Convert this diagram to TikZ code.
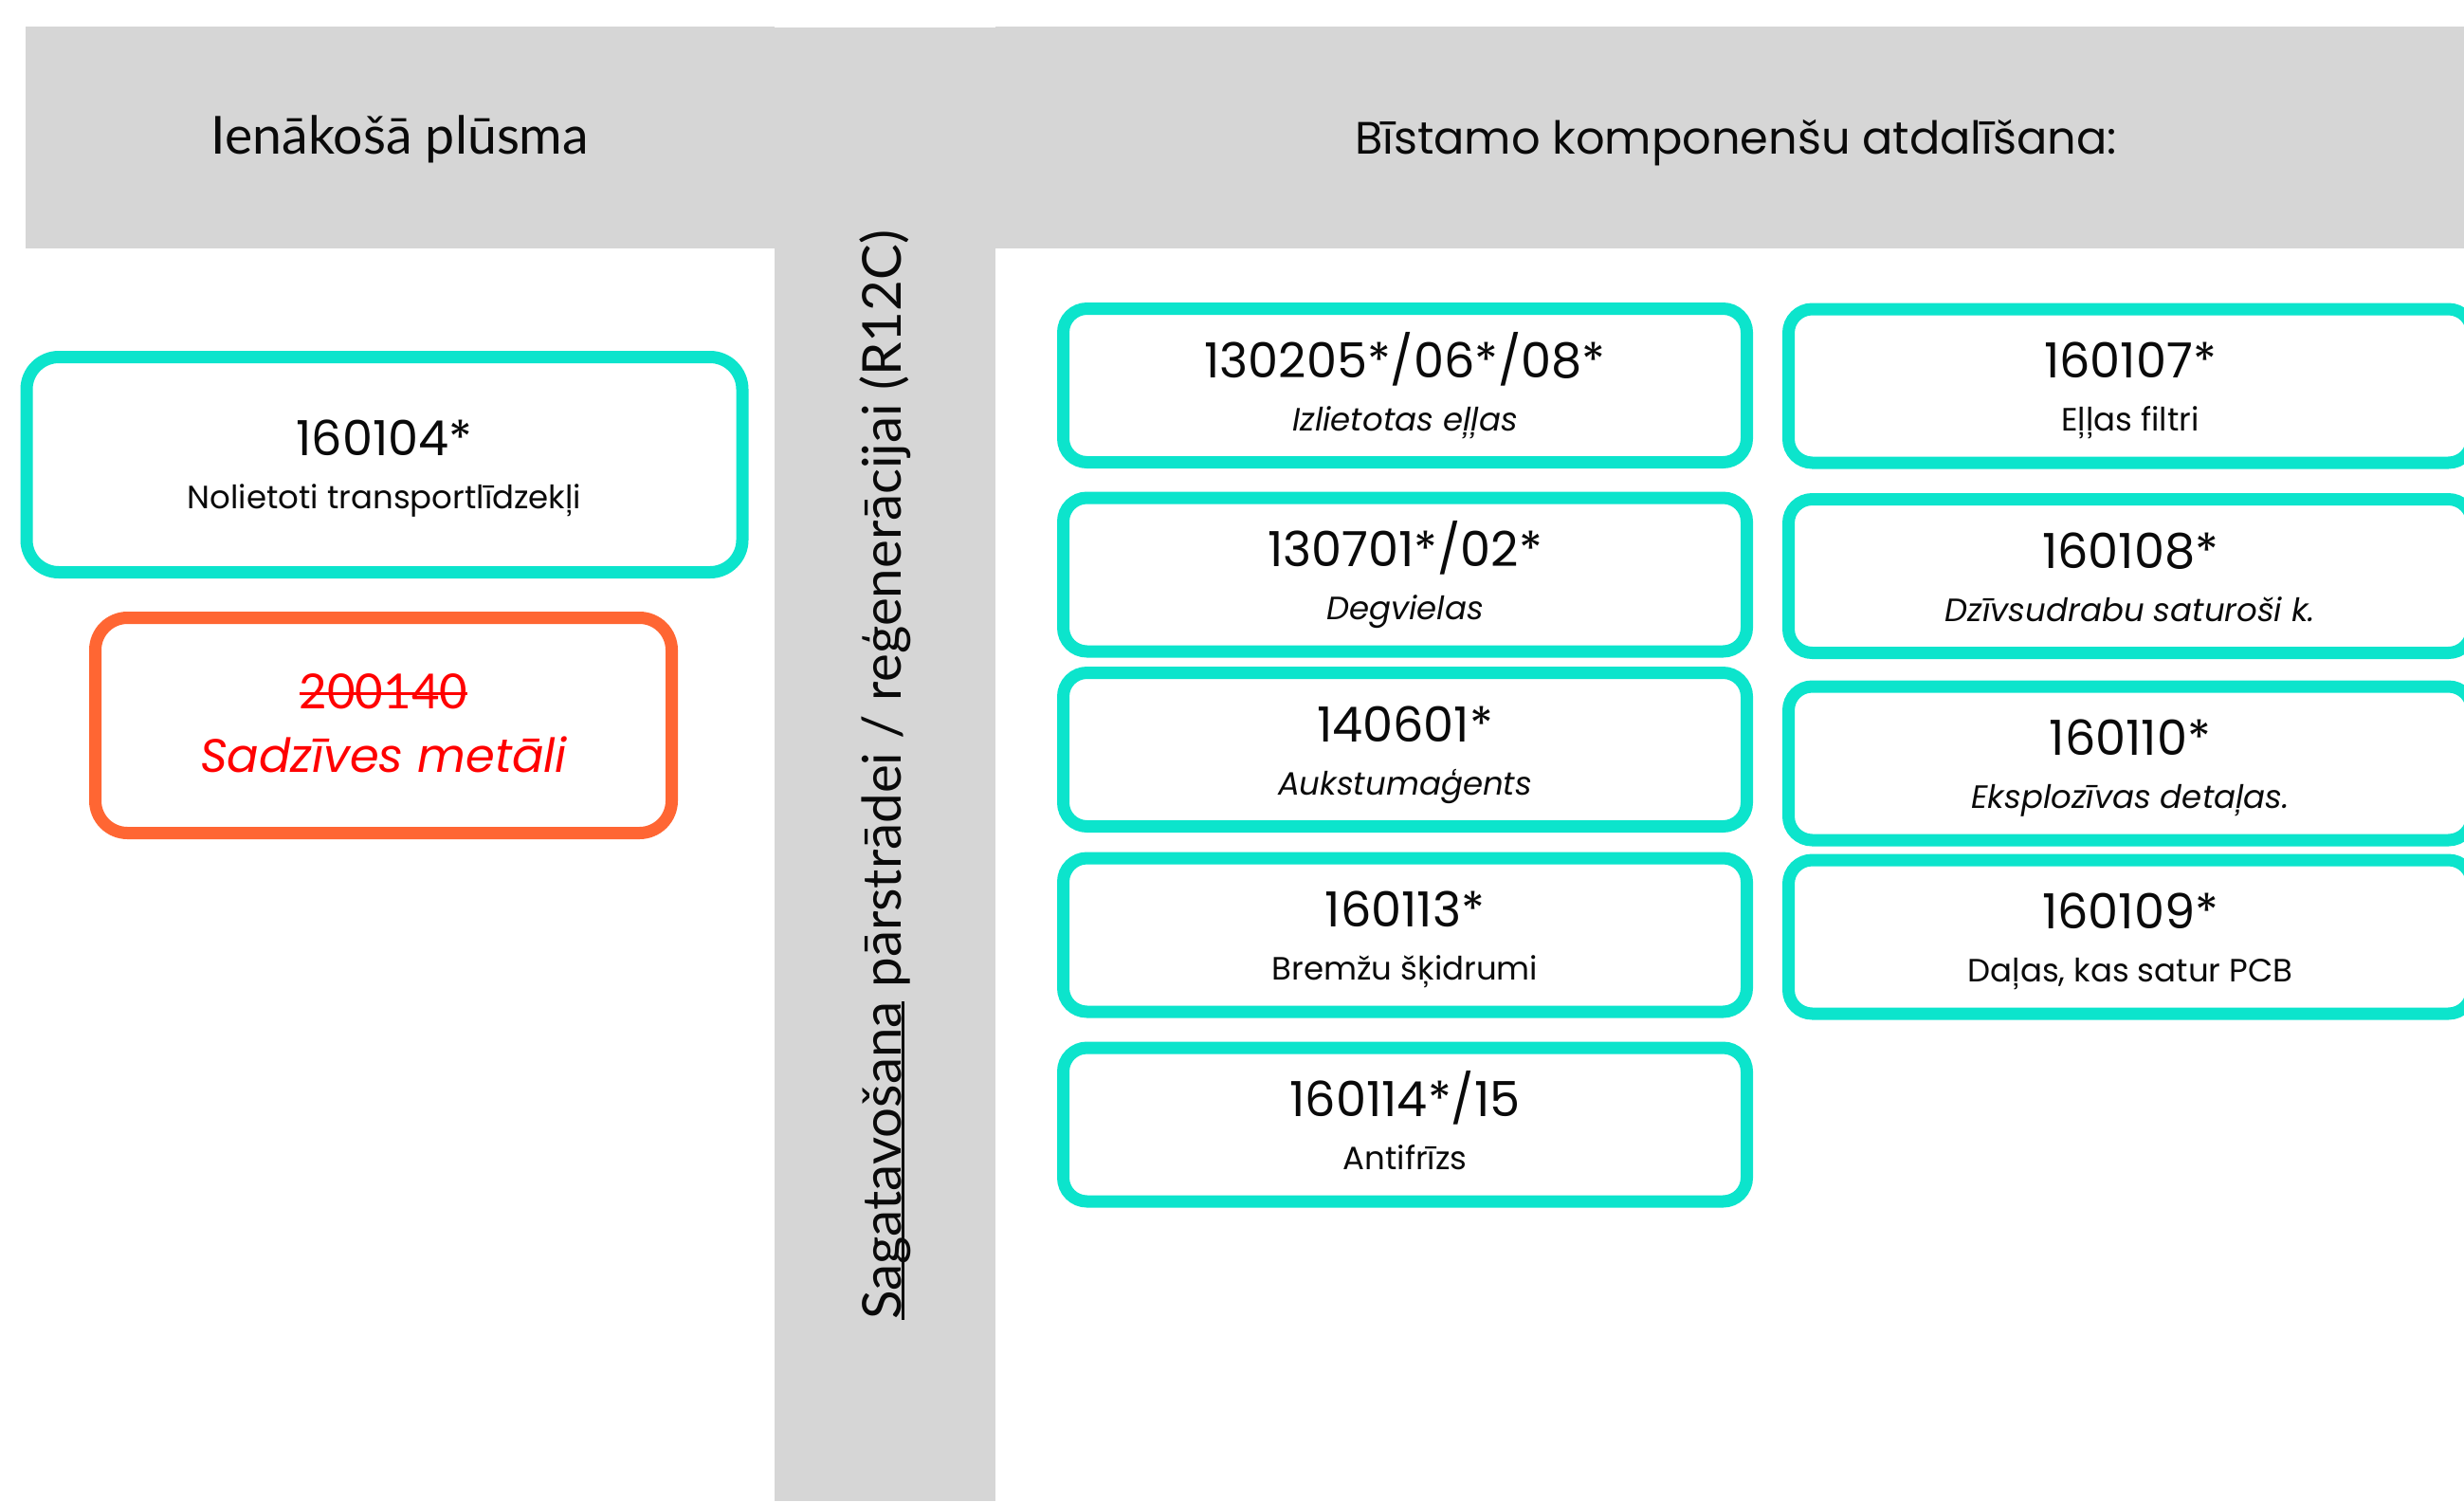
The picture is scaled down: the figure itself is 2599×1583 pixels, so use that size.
\documentclass[tikz,border=0pt]{standalone}
\usepackage{fontspec}
\setmainfont{Poppins}
\newfontfamily\hdfont{Lato}
\usetikzlibrary{calc}
\definecolor{tealc}{RGB}{12,228,204}
\definecolor{orng}{RGB}{255,102,51}
\definecolor{hdgray}{RGB}{214,214,214}
\definecolor{redtxt}{RGB}{255,0,0}
\definecolor{ink}{RGB}{10,10,10}
\newcommand\myul[1]{\setbox0\hbox{#1}\rlap{\rule[-0.07em]{\wd0}{0.055em}}\box0\relax}
\newcommand\mystrike[1]{\setbox0\hbox{#1}\rlap{\rule[0.27em]{\wd0}{0.06em}}\box0\relax}
\begin{document}
\begin{tikzpicture}[x=1pt,y=-1pt,
  tbox/.style={draw=tealc, line width=13pt, rounded corners=25pt, minimum width=721pt, minimum height=162pt, inner sep=0pt, outer sep=0pt, fill=white},
  lbox/.style={draw=tealc, line width=13pt, rounded corners=34pt, minimum width=755pt, minimum height=227pt, inner sep=0pt, outer sep=0pt, fill=white},
  obox/.style={draw=orng, line width=13pt, rounded corners=34pt, minimum width=608pt, minimum height=227pt, inner sep=0pt, outer sep=0pt, fill=white},
  ttl/.style={anchor=base, inner sep=0pt, text=ink, font=\fontsize{51}{60}\selectfont},
  sub/.style={anchor=base, inner sep=0pt, text=ink, font=\fontsize{34}{40}\selectfont},
  subi/.style={anchor=base, inner sep=0pt, text=ink, font=\fontsize{34}{40}\selectfont\itshape},
  hdr/.style={anchor=base, inner sep=0pt, text=ink}
]
\useasboundingbox (0,0) rectangle (2599,1583);
\clip (0,0) rectangle (2599,1583);
% grey bands
\fill[hdgray] (27,28) rectangle (817,262);
\fill[hdgray] (817,29) rectangle (1050,1583);
\fill[hdgray] (1050,28) rectangle (2599,262);
% headers
\node[hdr] (hin) at (422,162) {\resizebox{398pt}{!}{\hdfont\fontsize{50}{60}\selectfont Ienākošā plūsma}};
\node[hdr] (hbi) at (1831,162) {\resizebox{804pt}{!}{\fontsize{50}{60}\selectfont Bīstamo komponenšu atdalīšana:}};
\node[hdr, rotate=90, anchor=base west] (hvt) at (950,1392) {\resizebox{1149pt}{!}{\hdfont\fontsize{50}{60}\selectfont \myul{Sagatavošana} pārstrādei / reģenerācijai (R12C)}};
% left boxes
\node[lbox] (lb) at (405.5,490) {};
\node[ttl] (lbt) at ($(lb.center)+(0,-10)$) {160104*};
\node[sub] (lbs) at ($(lb.center)+(0,46)$) {Nolietoti transportlīdzekļi};
\node[obox] (ob) at (404.5,765) {};
\node[anchor=base, inner sep=0pt, text=redtxt, font=\hdfont\fontsize{51}{60}\selectfont] (obt) at ($(ob.center)+(0,-18)$) {\mystrike{200140}};
\node[anchor=base, inner sep=0pt, text=redtxt, font=\fontsize{49.5}{58}\selectfont\itshape] (obs) at ($(ob.center)+(0,49.5)$) {Sadzīves metāli};
% column 1
\node[tbox] (a1) at (1482,406.5) {};
\node[ttl] (a1t) at ($(a1.center)+(0,-8.5)$) {130205*/06*/08*};
\node[subi] (a1s) at ($(a1.center)+(0,47.5)$) {Izlietotas eļļas};
\node[tbox] (a2) at (1482,606) {};
\node[ttl] (a2t) at ($(a2.center)+(0,-8.5)$) {130701*/02*};
\node[subi] (a2s) at ($(a2.center)+(0,47.5)$) {Degvielas};
\node[tbox] (a3) at (1482,790.5) {};
\node[ttl] (a3t) at ($(a3.center)+(0,-8.5)$) {140601*};
\node[subi] (a3s) at ($(a3.center)+(0,47.5)$) {Aukstumaģents};
\node[tbox] (a4) at (1482,986) {};
\node[ttl] (a4t) at ($(a4.center)+(0,-8.5)$) {160113*};
\node[sub] (a4s) at ($(a4.center)+(0,47.5)$) {Bremžu šķidrumi};
\node[tbox] (a5) at (1482,1186) {};
\node[ttl] (a5t) at ($(a5.center)+(0,-8.5)$) {160114*/15};
\node[sub] (a5s) at ($(a5.center)+(0,47.5)$) {Antifrīzs};
% column 2
\node[tbox] (b1) at (2247,407) {};
\node[ttl] (b1t) at ($(b1.center)+(0,-8.5)$) {160107*};
\node[sub] (b1s) at ($(b1.center)+(0,47.5)$) {Eļļas filtri};
\node[tbox] (b2) at (2247,607.5) {};
\node[ttl] (b2t) at ($(b2.center)+(0,-8.5)$) {160108*};
\node[subi] (b2s) at ($(b2.center)+(0,47.5)$) {Dzīvsudrabu saturoši k.};
\node[tbox] (b3) at (2247,805) {};
\node[ttl] (b3t) at ($(b3.center)+(0,-8.5)$) {160110*};
\node[subi] (b3s) at ($(b3.center)+(0,47.5)$) {Eksplozīvas detaļas.};
\node[tbox] (b4) at (2247,988) {};
\node[ttl] (b4t) at ($(b4.center)+(0,-8.5)$) {160109*};
\node[sub] (b4s) at ($(b4.center)+(0,47.5)$) {Daļas, kas satur PCB};
\end{tikzpicture}
\end{document}
